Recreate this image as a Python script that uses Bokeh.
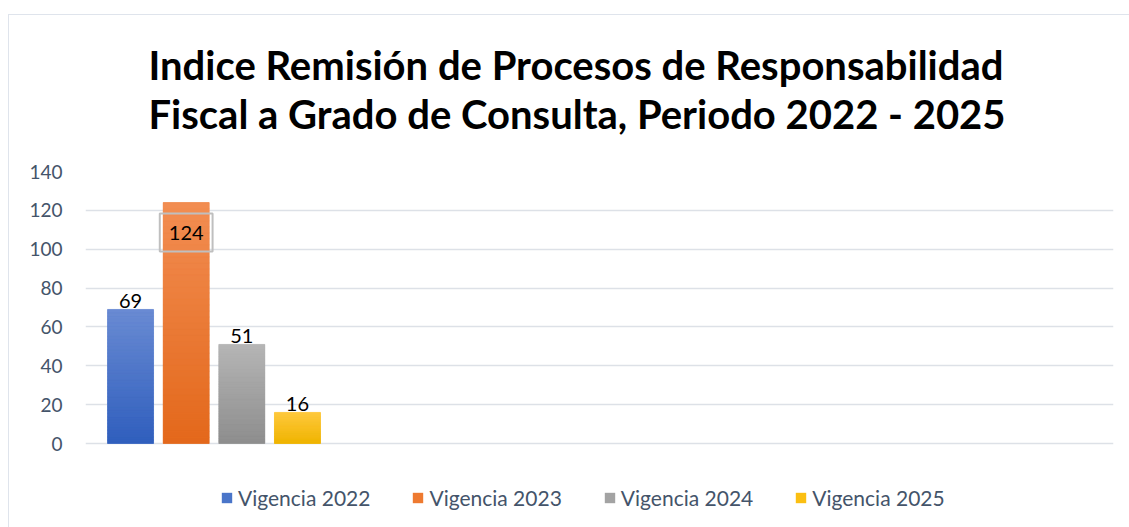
from bokeh.plotting import figure
from bokeh.models import (ColumnDataSource, Range1d, LabelSet, Label, Title,
                          FixedTicker, InlineStyleSheet, Legend, LegendItem)
from bokeh.embed import file_html
from bokeh.resources import INLINE
from bokeh.core.properties import value

# ---- data ----
title_lines = ["Indice Remisión de Procesos de Responsabilidad",
               "Fiscal a Grado de Consulta, Periodo 2022 - 2025"]
series = ["Vigencia 2022", "Vigencia 2023", "Vigencia 2024", "Vigencia 2025"]
values = [69, 124, 51, 16]
colors = ["#4a75c9", "#ee7a30", "#a3a3a3", "#fbbf12"]
color_top = ["#6a8bd3", "#f28d52", "#b5b5b5", "#ffc93f"]
color_bottom = ["#2f5ebd", "#e3681b", "#8e8e8e", "#efb400"]
y_ticks = [0, 20, 40, 60, 80, 100, 120, 140]
n_groups = 4          # category slots on the x axis (only the first holds data)

# ---- layout ----
W, H = 1129, 527
FRAME_TOP, FRAME_LEFT, FRAME_RIGHT = 171, 85, 16
PLOT_BOTTOM_PX = 443              # where the value 0 sits
LEGEND_SPACE = H - PLOT_BOTTOM_PX  # room below the axis for the legend
plot_h = PLOT_BOTTOM_PX - FRAME_TOP
y_max = y_ticks[-1]
y_min = -LEGEND_SPACE * y_max / plot_h

FONT = "Lato"
TEXT_COL = "#44546a"

bar_step = 0.2165
bar_width = 0.179
xs = [0.5 + (i - (len(values) - 1) / 2) * bar_step for i in range(len(values))]

# Excel moves a label inside the bar when it would leave the plot area
label_box_px = 38
inside = [v + label_box_px * y_max / plot_h > y_max for v in values]

src = ColumnDataSource(dict(x=xs, top=values, color=colors, series=series))
out_src = ColumnDataSource(dict(
    x=[x for x, f in zip(xs, inside) if not f],
    y=[v for v, f in zip(values, inside) if not f],
    label=[str(v) for v, f in zip(values, inside) if not f]))


def _hex(c):
    return [int(c[i:i + 2], 16) for i in (1, 3, 5)]


# vertical colour gradient of each bar, drawn as thin bands
N_BANDS = 40
g = dict(left=[], right=[], bottom=[], top=[], color=[])
for x, v, ct, cb in zip(xs, values, color_top, color_bottom):
    a, b = _hex(cb), _hex(ct)
    for k in range(N_BANDS):
        t = (k + 0.5) / N_BANDS
        rgb = [round(a[j] + (b[j] - a[j]) * t) for j in range(3)]
        g["left"].append(x - bar_width / 2)
        g["right"].append(x + bar_width / 2)
        g["bottom"].append(v * k / N_BANDS)
        g["top"].append(v * (k + 1) / N_BANDS)
        g["color"].append("#%02x%02x%02x" % tuple(rgb))
grad_src = ColumnDataSource(g)

p = figure(width=W, height=H, output_backend="svg", toolbar_location=None,
           x_range=Range1d(0, n_groups), y_range=Range1d(y_min, y_max),
           min_border_top=FRAME_TOP, min_border_bottom=0,
           min_border_left=FRAME_LEFT, min_border_right=FRAME_RIGHT,
           title=None)
p.stylesheets = [InlineStyleSheet(css=(
    ":host::after{content:'';position:absolute;left:8px;top:14px;"
    "width:1200px;height:600px;border-left:1px solid #dfe4ec;"
    "border-top:1px solid #dfe4ec;pointer-events:none;}"
    ":host{overflow:hidden;}"))]

p.outline_line_color = None
p.background_fill_color = "white"
p.border_fill_color = "white"

r = p.vbar(x="x", top="top", width=bar_width, bottom=0, source=src,
           fill_color="color", line_color=None)
p.quad(left="left", right="right", bottom="bottom", top="top",
       source=grad_src, fill_color="color", line_color="color",
       line_width=0.6)

# axes
p.xaxis.visible = False
p.xgrid.visible = False
yax = p.yaxis[0]
yax.ticker = FixedTicker(ticks=y_ticks)
yax.axis_line_color = None
yax.major_tick_line_color = None
yax.minor_tick_line_color = None
yax.major_tick_out = 0
yax.major_tick_in = 0
yax.major_label_standoff = 23
yax.major_label_text_font = FONT
yax.major_label_text_font_size = "19px"
yax.major_label_text_color = TEXT_COL
p.ygrid.ticker = FixedTicker(ticks=y_ticks)
p.ygrid.grid_line_color = "#dde1e7"
p.ygrid.grid_line_width = 1.5

# data labels
p.add_layout(LabelSet(x="x", y="y", text="label", source=out_src,
                      text_align="center", text_baseline="alphabetic",
                      y_offset=1, text_font=value(FONT),
                      text_font_size="20px", text_color="black"))
for x, v, f in zip(xs, values, inside):
    if f:
        p.add_layout(Label(x=x, y=v, text=str(v), text_align="center",
                           text_baseline="middle", y_offset=-30,
                           text_font=FONT, text_font_size="20px",
                           text_color="black", border_line_color="#bfbfbf",
                           border_line_width=2, padding=(9, 12)))

# title
p.add_layout(Title(text=title_lines[0] + "\n" + title_lines[1],
                   align="left", text_font=FONT, text_font_size="40px",
                   text_font_style="bold", text_color="black",
                   text_line_height=1.04, standoff=66, offset=63), "above")

# legend (drawn in the space reserved below the value axis)
legend = Legend(items=[LegendItem(label=s, renderers=[r], index=i)
                       for i, s in enumerate(series)])
legend.orientation = "horizontal"
legend.location = (135, 17)
legend.glyph_width = 13
legend.glyph_height = 13
legend.label_standoff = 5
legend.spacing = 41
legend.label_text_font = FONT
legend.label_text_font_size = "21px"
legend.label_text_color = TEXT_COL
legend.border_line_color = None
legend.background_fill_alpha = 0
legend.padding = 0
legend.margin = 0
p.add_layout(legend)

open("out.html", "w").write(file_html(p, INLINE))
